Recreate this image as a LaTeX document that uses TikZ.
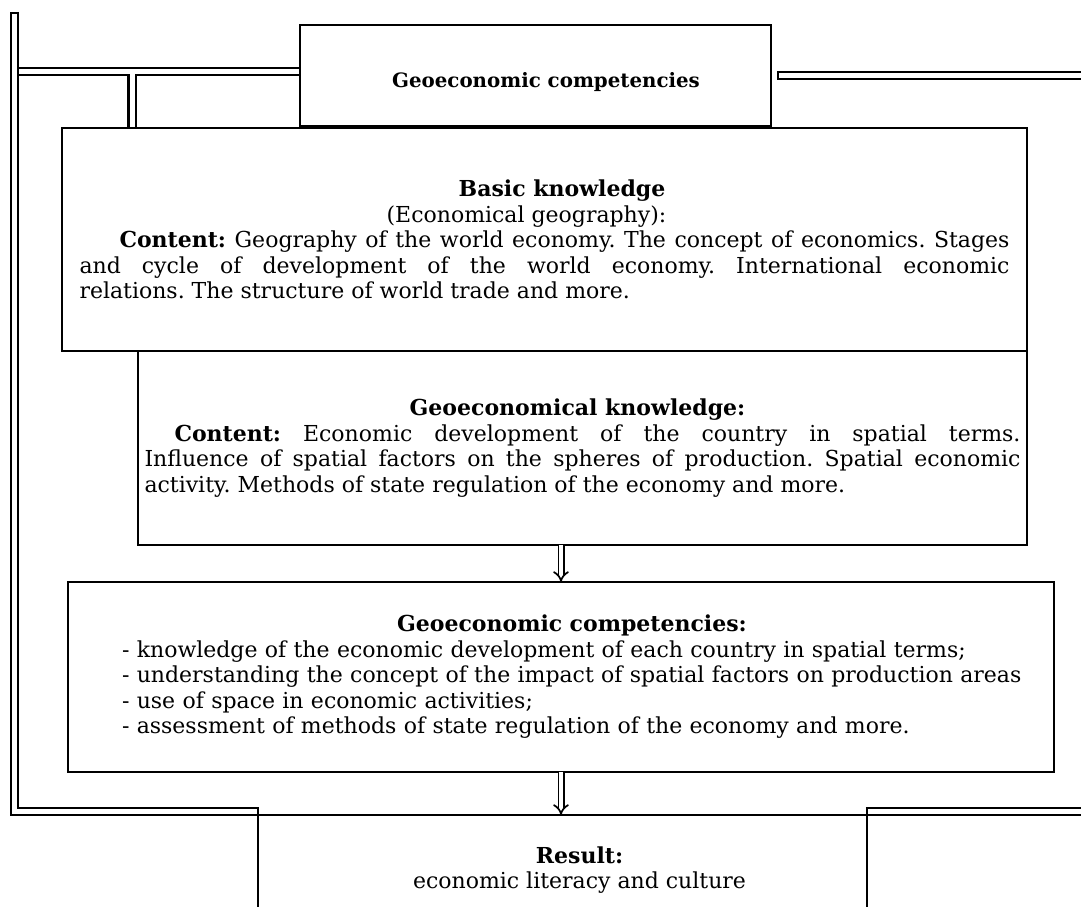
\documentclass[tikz,border=0pt]{standalone}
\usepackage{fontspec}
\setmainfont{DejaVu Serif}
\usetikzlibrary{arrows.meta, positioning, calc}
\newcommand{\boxfont}{\fontsize{22}{25.5}\selectfont\parindent=0pt\frenchspacing}

\begin{document}
\begin{tikzpicture}[
    x=1pt, y=-1pt,
    box/.style={draw, line width=2.4pt, outer sep=0pt, inner sep=0pt,
                font=\boxfont},
    pipe/.style={white, line width=5pt, shorten <=2.2pt, shorten >=2.2pt,
                 preaction={draw=black, line width=9.4pt,
                            shorten <=0pt, shorten >=0pt}},
    dbl/.style={double, double distance=3.6pt, line width=1.7pt, -{Implies}}
  ]
    \useasboundingbox (0,0) rectangle (1081,907);
    \clip (0,0) rectangle (1081,907);

    % boxes
    \node[box, minimum width=471pt, minimum height=101pt] (goal) at (535.5,75.5)
      {\hspace*{21pt}\raisebox{-12.5pt}[0pt][0pt]{\fontsize{19.8}{24}\selectfont
       \textbf{Geoeconomic competencies}}};
    \node[box, minimum width=965pt, minimum height=223pt,
          text width=930pt, align=justify] (basic) at (544.5,239.5)
      {{\centering\hspace*{35pt}\textbf{Basic knowledge}\par
        \hspace*{-36pt}(Economical geography):\par}
       \hspace*{40pt}\textbf{Content:} Geography of the world economy. The
       concept of economics. Stages\linebreak and cycle of development of the
       world economy. International economic\linebreak relations. The
       structure of world trade and more.\par};
    \node[box, minimum width=889pt, minimum height=194pt, text width=876pt,
          align=justify, anchor=north east] (geo) at (basic.south east)
      {{\centering\hspace*{-10pt}\textbf{Geoeconomical knowledge:}\par}
       \hspace*{30pt}\textbf{Content:} Economic development of the country
       in spatial terms.\linebreak Influence of spatial factors on the
       spheres of production. Spatial economic\linebreak activity. Methods
       of state regulation of the economy and more.\par};
    \node[box, minimum width=986pt, minimum height=190pt,
          text width=960pt] (comp) at (561,677)
      {\leftskip=41pt \rightskip=0pt plus 1fil \parfillskip=0pt plus 1fil
       \makebox[900pt]{\textbf{Geoeconomic competencies:}}\par
       - knowledge of the economic development of each country in spatial terms;\par
       - understanding the concept of the impact of spatial factors on production areas\par
       - use of space in economic activities;\par
       - assessment of methods of state regulation of the economy and more.\par};
    \node[box, minimum width=609pt, minimum height=110pt,
          align=center] (result) at (562.5,870)
      {\hspace*{34pt}\textbf{Result:}\\
       \hspace*{34pt}economic literacy and culture};

    % frame pipes
    \coordinate (ltop) at (14.5,12);
    \coordinate (lbot) at (14.5,811.5);
    \coordinate (tbar) at (19.2,71.5);
    \coordinate (tjoin) at (132,74);
    \coordinate (rend) at (1090,75.5);
    \coordinate (brend) at (1090,811.5);
    \coordinate (lres) at (lbot -| result.west);
    \coordinate (rres) at (brend -| result.east);

    \draw[pipe] (ltop) -- (lbot) -- ([xshift=1.2pt]lres);
    \draw[pipe, shorten <=0pt, shorten >=1.2pt] (tbar) -- (tbar -| goal.west);
    \draw[pipe, shorten <=0pt, shorten >=1.2pt] (tjoin) -- (tjoin |- basic.north);
    \draw[pipe, shorten >=0pt] ([xshift=6pt]goal.east) -- (rend);
    \draw[pipe, shorten >=0pt] ([xshift=-1.2pt]rres) -- (brend);

    % arrows
    \draw[dbl] (geo.south -| comp.north) -- (comp.north);
    \draw[dbl] (comp.south) -- (comp.south |- result.north);
\end{tikzpicture}
\end{document}
